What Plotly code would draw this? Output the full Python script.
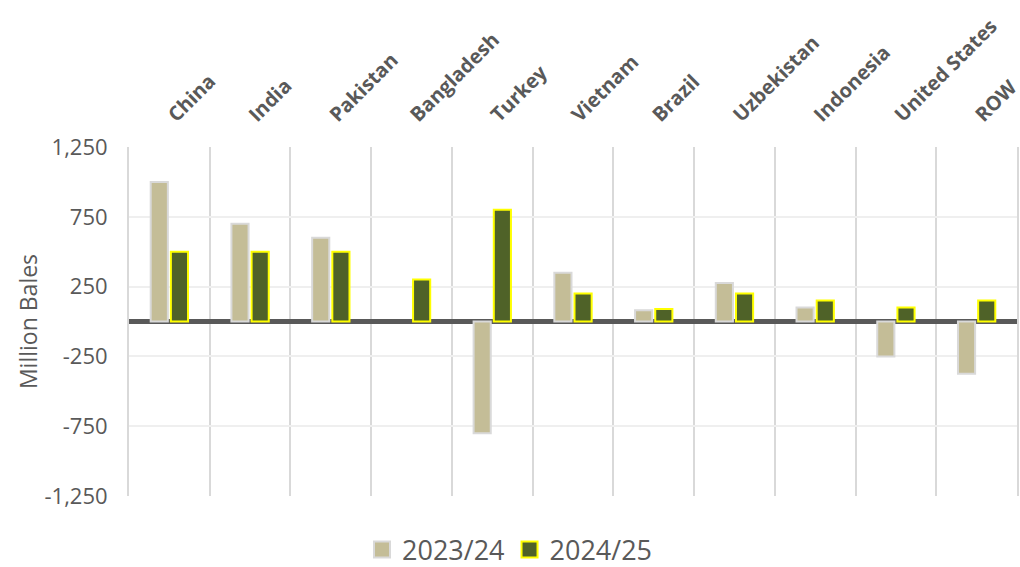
import plotly.graph_objects as go

categories = ["China", "India", "Pakistan", "Bangladesh", "Turkey", "Vietnam",
              "Brazil", "Uzbekistan", "Indonesia", "United States", "ROW"]
series_names = ["2023/24", "2024/25"]
values_2023 = [1000, 700, 600, None, -800, 350, 80, 275, 100, -250, -375]
values_2024 = [500, 500, 500, 300, 800, 200, 90, 200, 150, 100, 150]
y_tickvals = [-1250, -750, -250, 250, 750, 1250]
y_ticktext = ["-1,250", "-750", "-250", "250", "750", "1,250"]

FONT = "Open Sans"
TXT = "#595959"
FILLS = ["#c4bd97", "#4f6228"]
EDGES = ["#d9d9d9", "#ffff00"]

fig = go.Figure()
for name, vals, fc, ec in zip(series_names, [values_2023, values_2024], FILLS, EDGES):
    fig.add_trace(go.Bar(
        x=categories, y=vals, name=name, showlegend=False, legendgroup=name,
        marker=dict(color=fc, line=dict(color=ec, width=2)),
    ))
# legend-only entries with larger square symbols
for name, fc, ec in zip(series_names, FILLS, EDGES):
    fig.add_trace(go.Scatter(
        x=[None], y=[None], mode="markers", name=name, legendgroup=name,
        marker=dict(symbol="square", size=16, color=fc, line=dict(color=ec, width=2)),
    ))

fig.update_layout(
    width=1020, height=567,
    paper_bgcolor="white", plot_bgcolor="white",
    margin=dict(l=129, r=3, t=147, b=71, autoexpand=False),
    barmode="group", bargap=0.5, bargroupgap=0.15,
    font=dict(family=FONT, color=TXT),
    legend=dict(
        orientation="h", xref="container", x=0.5, xanchor="center",
        yref="container", y=0.03, yanchor="middle",
        font=dict(size=27, family=FONT, color=TXT),
        itemsizing="trace", itemwidth=30,
    ),
    showlegend=True,
)
fig.update_xaxes(
    side="top", tickangle=-45, tickson="boundaries",
    showgrid=True, gridcolor="#d9d9d9", gridwidth=2,
    ticks="", ticklabelstandoff=16,
    tickfont=dict(size=20, family=FONT, color=TXT, weight="bold"),
    showline=False, automargin=False,
)
fig.update_yaxes(
    range=[-1250, 1250], tickvals=y_tickvals, ticktext=y_ticktext,
    showgrid=True, gridcolor="#efefef", gridwidth=2,
    zeroline=True, zerolinecolor="#595959", zerolinewidth=5,
    showline=True, linecolor="#d9d9d9", linewidth=2, mirror=True,
    ticks="", ticklabelstandoff=15,
    tickfont=dict(size=22, family=FONT, color=TXT),
    title=dict(text="Million Bales", font=dict(size=23, family=FONT, color=TXT), standoff=0),
    automargin=False,
)

fig.write_html(
    "out.html",
    config={"displayModeBar": False},
    post_script="document.body.style.margin='0';document.body.style.overflow='hidden';",
)
